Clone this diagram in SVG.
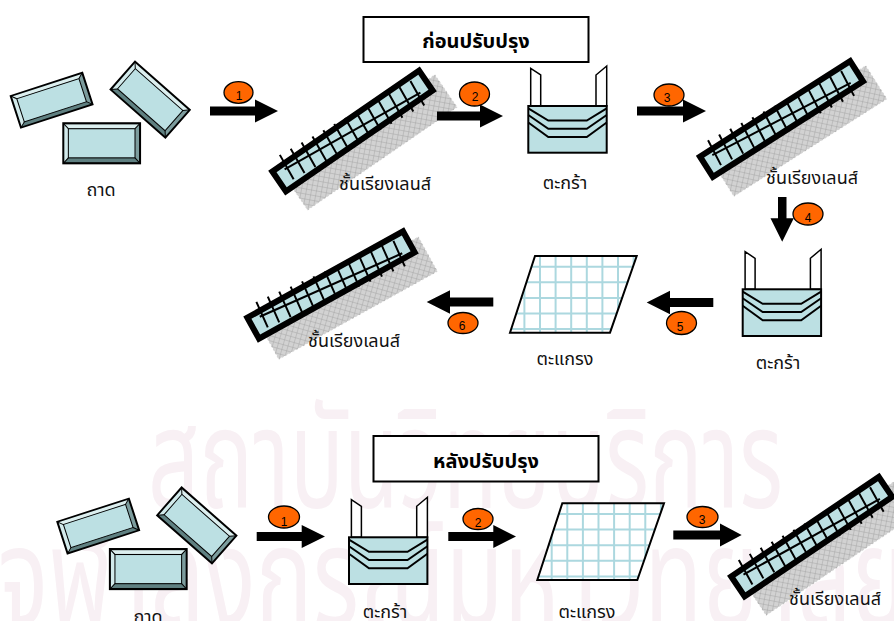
<svg xmlns="http://www.w3.org/2000/svg" xmlns:xlink="http://www.w3.org/1999/xlink" width="894" height="621" viewBox="0 0 894 621">
  <style>
    .lbl { font-family: "Noto Sans Thai", Tahoma, "Liberation Sans", "DejaVu Sans", sans-serif; font-size: 18px; fill: #111; text-anchor: middle; }
    .ttl { font-family: "Noto Sans Thai", Tahoma, "Liberation Sans", "DejaVu Sans", sans-serif; font-size: 20px; font-weight: bold; fill: #000; text-anchor: middle; }
    .num { font-family: "Liberation Sans", Arial, sans-serif; font-size: 12px; fill: #000; text-anchor: middle; }
    .wm { font-family: "Noto Sans Thai", Tahoma, "Liberation Sans", "DejaVu Sans", sans-serif; fill: #f8f0f4; }
    .box { fill: #fff; stroke: #000; stroke-width: 2; }
    .arrow { fill: #000; }
    .badge { fill: #ff6600; stroke: #000; stroke-width: 1.3; }
  </style>
  <defs>
    <pattern id="hatch" width="5" height="5" patternUnits="userSpaceOnUse" patternTransform="rotate(45)">
      <rect width="5" height="5" fill="#d2d2d2"/>
      <path d="M0 0H5M0 0V5" stroke="#9c9c9c" stroke-width="0.8"/>
    </pattern>

    <!-- beveled tray, 76 x 37 -->
    <g id="tray">
      <rect x="0" y="0" width="76" height="37" fill="#bce0e3"/>
      <path d="M0 0H76L71 5H5Z" fill="#dcefef"/>
      <path d="M0 0L5 5V32L0 37Z" fill="#d2eaeb"/>
      <path d="M76 0V37L71 32V5Z" fill="#7c9c9d"/>
      <path d="M0 37H76L71 32H5Z" fill="#5f8081"/>
      <rect x="5" y="5" width="66" height="27" fill="#bce0e3" stroke="#000" stroke-width="1"/>
      <path d="M0 0L5 5M76 0L71 5M76 37L71 32M0 37L5 32" stroke="#000" stroke-width="1"/>
      <rect x="0" y="0" width="76" height="37" fill="none" stroke="#000" stroke-width="2"/>
    </g>

    <!-- lens rack, centred on the origin -->
    <g id="rack">
      <rect x="-82" y="0" width="182" height="40" fill="url(#hatch)" stroke="#fff" stroke-width="1" stroke-dasharray="2 2"/>
      <rect x="-89" y="-12" width="178" height="24" fill="#bde0e3" stroke="#000" stroke-width="6"/>
      <g transform="rotate(5)" stroke="#000" stroke-width="2">
        <line x1="-78" y1="0" x2="78" y2="0"/>
        <path d="M-75 -15V13M-62.5 -15V13M-50 -15V13M-37.5 -15V13M-25 -15V13M-12.5 -15V13M0 -15V13M12.5 -15V13M25 -15V13M37.5 -15V13M50 -15V13M62.5 -15V13M75 -15V13"/>
      </g>
    </g>

    <!-- basket, origin at top-left of the body -->
    <g id="basket">
      <path d="M2.4 0V-37.7L12.4 -31V0Z" fill="#fff" stroke="#000" stroke-width="1.5"/>
      <path d="M67.7 0V-31L78.4 -40V0Z" fill="#fff" stroke="#000" stroke-width="1.5"/>
      <rect x="0" y="0" width="78.4" height="46.7" fill="#bce0e3" stroke="#000" stroke-width="2"/>
      <g fill="none" stroke="#000" stroke-width="2">
        <path d="M0 2.3L20 14.5H58.5L78.4 2.3"/>
        <path d="M0 9L20 22.8H58.5L78.4 9"/>
        <path d="M0 16.5L20 31H58.5L78.4 16.5"/>
      </g>
    </g>

    <clipPath id="grateClip">
      <path d="M25 0H126.7L100 76.7H0Z"/>
    </clipPath>
    <!-- wire grate, origin at bottom-left x / top y -->
    <g id="grate">
      <path d="M25 0H126.7L100 76.7H0Z" fill="#fff"/>
      <g clip-path="url(#grateClip)" stroke="#acd8df" stroke-width="2">
        <path d="M14.4 0V77M30 0V77M45.6 0V77M61.2 0V77M76.8 0V77M92.4 0V77M108 0V77M123.6 0V77"/>
        <path d="M0 10.7H127M0 26.3H127M0 41.9H127M0 57.5H127M0 73.1H127"/>
      </g>
      <path d="M25 0H126.7L100 76.7H0Z" fill="none" stroke="#000" stroke-width="2"/>
    </g>
  </defs>

  <rect width="894" height="621" fill="#fff"/>

  <!-- background stamp text -->
  <g id="stamp">
    <text class="wm" x="148" y="508" font-size="140" textLength="635" lengthAdjust="spacingAndGlyphs">สถาบันวิทยบริการ</text>
    <text class="wm" x="-2" y="626" font-size="140" textLength="910" lengthAdjust="spacingAndGlyphs">จุฬาลงกรณ์มหาวิทยาลัย</text>
  </g>

  <!-- ===== before ===== -->
  <g id="title-before">
    <rect class="box" x="363.5" y="17" width="225" height="45"/>
    <text class="ttl" x="476" y="48">ก่อนปรับปรุง</text>
  </g>

  <g id="trays-before">
    <use xlink:href="#tray" transform="translate(10.7,96) rotate(-18) scale(0.99,0.9)"/>
    <use xlink:href="#tray" transform="translate(63.3,123.3) scale(1.01,1.08)"/>
    <use xlink:href="#tray" transform="translate(135,61.7) rotate(41.3) scale(0.96,1)"/>
    <text class="lbl" x="101" y="196">ถาด</text>
  </g>

  <g id="rack-1">
    <use xlink:href="#rack" transform="translate(352.5,131) rotate(-34.5)"/>
    <text class="lbl" x="385" y="190">ชั้นเรียงเลนส์</text>
  </g>

  <g id="basket-1">
    <use xlink:href="#basket" transform="translate(528.3,106)"/>
    <text class="lbl" x="565" y="189">ตะกร้า</text>
  </g>

  <g id="rack-2">
    <use xlink:href="#rack" transform="translate(781.5,119) rotate(-32.5)"/>
    <text class="lbl" x="812" y="184">ชั้นเรียงเลนส์</text>
  </g>

  <g id="basket-2">
    <use xlink:href="#basket" transform="translate(742.7,289.3)"/>
    <text class="lbl" x="778" y="369">ตะกร้า</text>
  </g>

  <g id="grate-1">
    <use xlink:href="#grate" transform="translate(510,256)"/>
    <text class="lbl" x="565" y="365">ตะแกรง</text>
  </g>

  <g id="rack-3">
    <use xlink:href="#rack" transform="translate(331,285) rotate(-29)"/>
    <text class="lbl" x="354" y="347">ชั้นเรียงเลนส์</text>
  </g>

  <!-- ===== after ===== -->
  <g id="title-after">
    <rect class="box" x="373.5" y="436" width="225" height="45.5"/>
    <text class="ttl" x="486" y="468">หลังปรับปรุง</text>
  </g>

  <g id="trays-after">
    <g transform="translate(46.6,425.8)">
      <use xlink:href="#tray" transform="translate(10.7,96) rotate(-18) scale(0.99,0.9)"/>
      <use xlink:href="#tray" transform="translate(63.3,123.3) scale(1.01,1.08)"/>
      <use xlink:href="#tray" transform="translate(135,61.7) rotate(41.3) scale(0.96,1)"/>
    </g>
    <text class="lbl" x="148" y="623">ถาด</text>
  </g>

  <g id="basket-3">
    <use xlink:href="#basket" transform="translate(349,537.3)"/>
    <text class="lbl" x="385" y="618">ตะกร้า</text>
  </g>

  <g id="grate-2">
    <use xlink:href="#grate" transform="translate(537.3,503.3)"/>
    <text class="lbl" x="587" y="618">ตะแกรง</text>
  </g>

  <g id="rack-4">
    <use xlink:href="#rack" transform="translate(811.7,536.7) rotate(-34)"/>
    <text class="lbl" x="835" y="605">ชั้นเรียงเลนส์</text>
  </g>

  <!-- ===== connectors ===== -->
  <g id="connectors">
    <path class="arrow" d="M210 106.5H255V99.5L278 111L255 122.5V115.5H210Z"/>
    <path class="arrow" d="M437 111.5H480V104.5L503 116L480 127.5V120.5H437Z"/>
    <path class="arrow" d="M637 106.5H683V99.5L706 111L683 122.5V115.5H637Z"/>
    <path class="arrow" d="M778 197V218.3H770.5L782.2 241.7L793.8 218.3H786.5V197Z"/>
    <path class="arrow" d="M713.3 298V307H670V314.2L646.7 302.5L670 290.8V298Z"/>
    <path class="arrow" d="M493.3 297.5V306.5H450V313.8L426.7 302L450 290.3V297.5Z"/>
    <path class="arrow" d="M256.7 532H301.7V525L325 536.5L301.7 548V541H256.7Z"/>
    <path class="arrow" d="M448.3 532H493.3V525L516 536.5L493.3 548V541H448.3Z"/>
    <path class="arrow" d="M673.3 530.5H720V523.5L741.7 535L720 546.5V539.5H673.3Z"/>

    <g id="badges">
      <ellipse class="badge" cx="238.5" cy="92.5" rx="14.5" ry="10.8"/>
      <text class="num" x="239" y="100">1</text>
      <ellipse class="badge" cx="474.5" cy="94" rx="15" ry="12"/>
      <text class="num" x="475" y="101">2</text>
      <ellipse class="badge" cx="669" cy="95" rx="15" ry="11"/>
      <text class="num" x="667" y="102">3</text>
      <ellipse class="badge" cx="808" cy="214" rx="15" ry="11"/>
      <text class="num" x="808" y="222">4</text>
      <ellipse class="badge" cx="681.5" cy="323" rx="15" ry="11.5"/>
      <text class="num" x="680" y="331">5</text>
      <ellipse class="badge" cx="463" cy="323" rx="15" ry="10.5"/>
      <text class="num" x="462" y="330">6</text>
      <ellipse class="badge" cx="284" cy="517" rx="15.5" ry="11"/>
      <text class="num" x="284" y="526">1</text>
      <ellipse class="badge" cx="478" cy="519" rx="15" ry="10.5"/>
      <text class="num" x="478" y="527">2</text>
      <ellipse class="badge" cx="702.5" cy="517" rx="15.5" ry="10.5"/>
      <text class="num" x="702" y="524">3</text>
    </g>
  </g>
</svg>
